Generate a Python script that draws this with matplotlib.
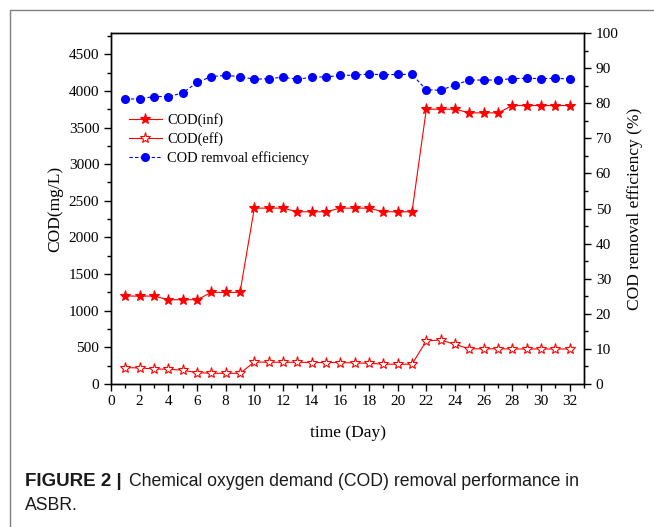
import matplotlib
matplotlib.use("Agg")
import matplotlib.pyplot as plt
from matplotlib.patches import Rectangle
from matplotlib.ticker import MultipleLocator

days = list(range(1, 33))
cod_inf = [1200, 1200, 1200, 1150, 1150, 1150, 1250, 1250, 1250,
           2400, 2400, 2400, 2350, 2350, 2350, 2400, 2400, 2400, 2350, 2350, 2350,
           3750, 3750, 3750, 3700, 3700, 3700, 3800, 3800, 3800, 3800, 3800]
cod_eff = [223, 220, 205, 202, 187, 155, 146, 146, 146,
           300, 298, 296, 298, 293, 293, 293, 287, 284, 270, 270, 270,
           590, 600, 541, 480, 480, 480, 478, 478, 478, 478, 478]
removal = [81.2, 81.2, 81.9, 81.9, 82.9, 85.9, 87.6, 87.9, 87.6,
           86.8, 87.0, 87.4, 86.8, 87.4, 87.5, 87.9, 88.0, 88.3, 88.1, 88.2, 88.2,
           83.8, 83.7, 85.2, 86.6, 86.6, 86.6, 87.0, 87.1, 87.0, 87.1, 86.9]

serif = ["Liberation Serif", "DejaVu Serif"]
plt.rcParams["font.family"] = serif

fig = plt.figure(figsize=(6.54, 5.27), dpi=100)
ax = fig.add_axes([111/654, 1-384/527, (584-111)/654, (384-33)/527])
ax2 = ax.twinx()

l1, = ax.plot(days, cod_inf, color="red", lw=0.8, marker="*", ms=8,
              mfc="red", mec="red", mew=0.8, label="COD(inf)")
l2, = ax.plot(days, cod_eff, color="red", lw=0.8, marker="*", ms=8,
              mfc="white", mec="red", mew=0.8, label="COD(eff)")
l3, = ax2.plot(days, removal, color="blue", lw=0.8, ls=(0, (3, 2)), marker="o", ms=5.5,
               mfc="blue", mec="blue", label="COD remvoal efficiency")

ax.set_xlim(0, 33)
ax.set_ylim(0, 4790)
ax2.set_ylim(0, 100)
ax.xaxis.set_major_locator(MultipleLocator(2))
ax.xaxis.set_minor_locator(MultipleLocator(1))
ax.yaxis.set_major_locator(MultipleLocator(500))
ax.yaxis.set_minor_locator(MultipleLocator(250))
ax2.yaxis.set_major_locator(MultipleLocator(10))
ax2.yaxis.set_minor_locator(MultipleLocator(5))

for a in (ax, ax2):
    a.tick_params(which="major", direction="out", length=5, width=1, labelsize=11)
    a.tick_params(which="minor", direction="out", length=3, width=1)
    for s in a.spines.values():
        s.set_linewidth(1.0)
ax.tick_params(axis="x", pad=3)

ax.set_xlabel("time (Day)", fontsize=12.5, labelpad=12)
ax.set_ylabel("COD(mg/L)", fontsize=12.5, labelpad=4)
ax2.set_ylabel("COD removal efficiency (%)", fontsize=12.5, labelpad=6)

leg = ax.legend(handles=[l1, l2, l3], loc="upper left",
                bbox_to_anchor=(0.016, 0.80), frameon=False, fontsize=10.4,
                handlelength=2.3, handletextpad=0.35, labelspacing=0.35,
                borderaxespad=0.3)

# figure border
fig.patches.append(Rectangle((10/654, -0.01), 1.0, 1 - 10/527 + 0.01,
                             transform=fig.transFigure, fill=False,
                             edgecolor="#7f7f7f", lw=1.0, clip_on=False))

sans = ["Liberation Sans", "DejaVu Sans"]
cap_col = "#1a1a1a"
fig.text(25/654, 1-482/527, "FIGURE 2 |", fontsize=13.5, family=sans,
         weight="bold", va="center", ha="left", color=cap_col)
fig.text(129/654, 1-482/527, "Chemical oxygen demand (COD) removal performance in",
         fontsize=12.7, family=sans, va="center", ha="left", color=cap_col)
fig.text(25/654, 1-506/527, "ASBR.", fontsize=12.7, family=sans,
         va="center", ha="left", color=cap_col)

fig.savefig("out.png", dpi=100)
